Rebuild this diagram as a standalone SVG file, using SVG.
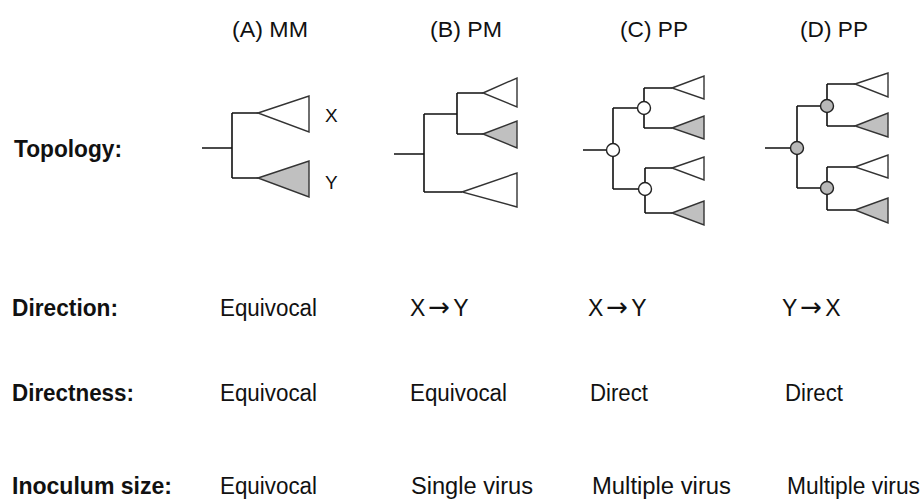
<svg xmlns="http://www.w3.org/2000/svg" width="921" height="500" viewBox="0 0 921 500">
<style>
.t{font-family:"Liberation Sans",Arial,sans-serif;font-size:23px;fill:#111}
.b{font-weight:bold}
.h{font-size:22px}
.lbl{font-size:19px}
.ar{font-family:"DejaVu Sans",sans-serif;font-size:26px}
.e{fill:none;stroke:#111;stroke-width:1.6}
.tw{fill:#fff;stroke:#333;stroke-width:1.4}
.tg{fill:#c0c0c0;stroke:#333;stroke-width:1.4}
.cw{fill:#fff;stroke:#222;stroke-width:1.4}
.cg{fill:#b8b8b8;stroke:#222;stroke-width:1.4}
</style>
<rect width="921" height="500" fill="#fff"/>
<g id="headers">
<text class="t h" x="232" y="37" textLength="76" lengthAdjust="spacingAndGlyphs">(A) MM</text>
<text class="t h" x="430" y="37" textLength="72" lengthAdjust="spacingAndGlyphs">(B) PM</text>
<text class="t h" x="620" y="37" textLength="68" lengthAdjust="spacingAndGlyphs">(C) PP</text>
<text class="t h" x="800" y="37" textLength="68" lengthAdjust="spacingAndGlyphs">(D) PP</text>
</g>
<g id="row-labels">
<text class="t b" x="14" y="157" textLength="108" lengthAdjust="spacingAndGlyphs">Topology:</text>
<text class="t b" x="12" y="316" textLength="106" lengthAdjust="spacingAndGlyphs">Direction:</text>
<text class="t b" x="12" y="401" textLength="122" lengthAdjust="spacingAndGlyphs">Directness:</text>
<text class="t b" x="12" y="494" textLength="160" lengthAdjust="spacingAndGlyphs">Inoculum size:</text>
</g>
<g id="connectors">
<path class="e" d="M202,148H232M232,113V178M232,113H258M232,178H258"/>
<path class="e" d="M394,154H424M424,114V192M424,114H457M457,93V134M457,93H483M457,134H483M424,192H462"/>
<path class="e" d="M583,150H613M613,108V189M613,108H644M644,88V128M644,88H672M644,128H672M613,189H645M645,168V213M645,168H672M645,213H672"/>
<path class="e" d="M765,148H797M797,106V188M797,106H827M827,84V126M827,84H855M827,126H855M797,188H827M827,167V210M827,167H855M827,210H855"/>
</g>
<g id="tree-A">
<polygon class="tw" points="258,113 309,96 309,132"/>
<polygon class="tg" points="258,178 309,161 309,197"/>
<text class="t lbl" x="325" y="122">X</text>
<text class="t lbl" x="325" y="189">Y</text>
</g>
<g id="tree-B">
<polygon class="tw" points="483,93 517,78 517,107"/>
<polygon class="tg" points="483,134 517,121 517,148"/>
<polygon class="tw" points="462,192 517,173 517,207"/>
</g>
<g id="tree-C">
<polygon class="tw" points="672,88 704,76 704,99"/>
<polygon class="tg" points="672,128 704,116 704,139"/>
<polygon class="tw" points="672,168 704,157 704,180"/>
<polygon class="tg" points="672,213 704,201 704,225"/>
<circle class="cw" cx="613" cy="150" r="6.5"/>
<circle class="cw" cx="644" cy="108" r="6.5"/>
<circle class="cw" cx="645" cy="189" r="6.5"/>
</g>
<g id="tree-D">
<polygon class="tw" points="855,84 888,73 888,97"/>
<polygon class="tg" points="855,126 888,113 888,137"/>
<polygon class="tw" points="855,167 888,155 888,178"/>
<polygon class="tg" points="855,210 888,198 888,223"/>
<circle class="cg" cx="797" cy="148" r="6.5"/>
<circle class="cg" cx="827" cy="106" r="6.5"/>
<circle class="cg" cx="827" cy="188" r="6.5"/>
</g>
<g id="values">
<text class="t" x="220" y="316" textLength="97" lengthAdjust="spacingAndGlyphs">Equivocal</text>
<text class="t" x="410" y="316">X<tspan class="ar" dx="3">→</tspan><tspan dx="3">Y</tspan></text>
<text class="t" x="588" y="316">X<tspan class="ar" dx="3">→</tspan><tspan dx="3">Y</tspan></text>
<text class="t" x="782" y="316">Y<tspan class="ar" dx="3">→</tspan><tspan dx="3">X</tspan></text>
<text class="t" x="220" y="401" textLength="97" lengthAdjust="spacingAndGlyphs">Equivocal</text>
<text class="t" x="410" y="401" textLength="97" lengthAdjust="spacingAndGlyphs">Equivocal</text>
<text class="t" x="590" y="401" textLength="58" lengthAdjust="spacingAndGlyphs">Direct</text>
<text class="t" x="785" y="401" textLength="58" lengthAdjust="spacingAndGlyphs">Direct</text>
<text class="t" x="220" y="494" textLength="97" lengthAdjust="spacingAndGlyphs">Equivocal</text>
<text class="t" x="411" y="494" textLength="122" lengthAdjust="spacingAndGlyphs">Single virus</text>
<text class="t" x="592" y="494" textLength="139" lengthAdjust="spacingAndGlyphs">Multiple virus</text>
<text class="t" x="787" y="494" textLength="133" lengthAdjust="spacingAndGlyphs">Multiple virus</text>
</g>
</svg>
